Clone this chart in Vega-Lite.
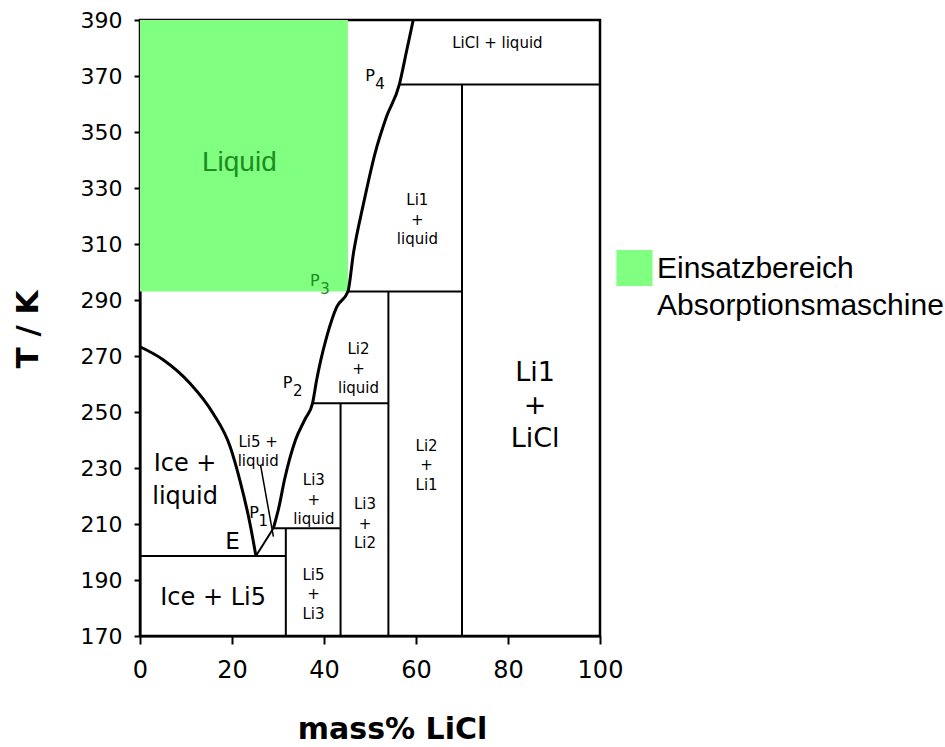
{
  "$schema": "https://vega.github.io/schema/vega-lite/v6.json",
  "width": 460,
  "height": 616,
  "autosize": "none",
  "padding": {"left": 140, "top": 20, "right": 345, "bottom": 111},
  "background": "white",
  "config": {
    "view": {"stroke": "black", "strokeWidth": 2.5},
    "font": "DejaVu Sans",
    "axis": {"grid": false, "domainColor": "black", "domainWidth": 2, "tickColor": "black", "tickWidth": 2, "labelColor": "black", "titleColor": "black"},
    "style": {"guide-label": {"lineHeight": 37}}
  },
  "datasets": {
    "region": [
      {"name": "Einsatzbereich|Absorptionsmaschine", "x": 0, "x2": 45.2, "y": 293, "y2": 390}
    ],
    "curves": [
      {"seg": "ice", "o": 1, "x": 0, "y": 273.3},
      {"seg": "ice", "o": 2, "x": 5.1, "y": 268.6},
      {"seg": "ice", "o": 3, "x": 10.9, "y": 260.2},
      {"seg": "ice", "o": 4, "x": 15.9, "y": 249.5},
      {"seg": "ice", "o": 5, "x": 19.6, "y": 237.6},
      {"seg": "ice", "o": 6, "x": 21.7, "y": 225.7},
      {"seg": "ice", "o": 7, "x": 23.9, "y": 210.2},
      {"seg": "ice", "o": 8, "x": 25.2, "y": 198.6},
      {"seg": "salt", "o": 1, "x": 29, "y": 208.5},
      {"seg": "salt", "o": 2, "x": 30.2, "y": 216},
      {"seg": "salt", "o": 3, "x": 31.4, "y": 225.7},
      {"seg": "salt", "o": 4, "x": 33.8, "y": 240},
      {"seg": "salt", "o": 5, "x": 35.9, "y": 247.5},
      {"seg": "salt", "o": 6, "x": 37.5, "y": 253.1},
      {"seg": "salt", "o": 7, "x": 38.4, "y": 261.4},
      {"seg": "salt", "o": 8, "x": 39.3, "y": 268.5},
      {"seg": "salt", "o": 9, "x": 40.6, "y": 276.9},
      {"seg": "salt", "o": 10, "x": 42.8, "y": 287.6},
      {"seg": "salt", "o": 11, "x": 45.2, "y": 293},
      {"seg": "salt", "o": 12, "x": 46.4, "y": 306.7},
      {"seg": "salt", "o": 13, "x": 48.6, "y": 324.5},
      {"seg": "salt", "o": 14, "x": 51.1, "y": 342.4},
      {"seg": "salt", "o": 15, "x": 53.6, "y": 355.5},
      {"seg": "salt", "o": 16, "x": 56.4, "y": 367.1},
      {"seg": "salt", "o": 17, "x": 58, "y": 379.3},
      {"seg": "salt", "o": 18, "x": 59.4, "y": 390}
    ],
    "rules": [
      {"x": 0, "x2": 31.7, "y": 198.6, "y2": 198.6},
      {"x": 29, "x2": 43.6, "y": 208.5, "y2": 208.5},
      {"x": 37.5, "x2": 54, "y": 253.1, "y2": 253.1},
      {"x": 45.2, "x2": 70, "y": 293, "y2": 293},
      {"x": 56.4, "x2": 100, "y": 367, "y2": 367},
      {"x": 31.7, "x2": 31.7, "y": 170, "y2": 208.5},
      {"x": 43.6, "x2": 43.6, "y": 170, "y2": 253.1},
      {"x": 54, "x2": 54, "y": 170, "y2": 293},
      {"x": 70, "x2": 70, "y": 170, "y2": 367},
      {"x": 25.2, "x2": 29, "y": 198.6, "y2": 208.5}
    ],
    "pointer": [
      {"x": 26.2, "x2": 29, "y": 231.1, "y2": 205.5}
    ],
    "labels": [
      {"g": "small", "t": "LiCl + liquid", "x": 77.7, "y": 381.8},
      {"g": "small", "t": "Li1\n+\nliquid", "x": 60.3, "y": 325.7},
      {"g": "small", "t": "Li2\n+\nliquid", "x": 47.5, "y": 272.4},
      {"g": "small", "t": "Li2\n+\nLi1", "x": 62.3, "y": 238},
      {"g": "small", "t": "Li5 +\nliquid", "x": 25.7, "y": 239.3},
      {"g": "small", "t": "Li3\n+\nliquid", "x": 37.8, "y": 225.7},
      {"g": "small", "t": "Li3\n+\nLi2", "x": 48.9, "y": 217.1},
      {"g": "small", "t": "Li5\n+\nLi3", "x": 37.7, "y": 191.8},
      {"g": "big", "t": "Li1\n+\nLiCl", "x": 85.9, "y": 263.9},
      {"g": "mid", "t": "Ice +\nliquid", "x": 9.8, "y": 231.4},
      {"g": "mid", "t": "Ice + Li5", "x": 15.9, "y": 183.6},
      {"g": "E", "t": "E", "x": 20.1, "y": 203.75},
      {"g": "P", "t": "P", "x": 24.8, "y": 214.1},
      {"g": "P", "t": "P", "x": 32.1, "y": 260.5},
      {"g": "P", "t": "P", "x": 50, "y": 370},
      {"g": "sub", "t": "1", "x": 26.8, "y": 211.1},
      {"g": "sub", "t": "2", "x": 34.3, "y": 257.5},
      {"g": "sub", "t": "4", "x": 52.2, "y": 367.1},
      {"g": "Pg", "t": "P", "x": 38, "y": 296.8},
      {"g": "subg", "t": "3", "x": 40.2, "y": 293.9},
      {"g": "liquid", "t": "Liquid", "x": 21.6, "y": 338.9}
    ]
  },
  "layer": [
    {
      "data": {"name": "region"},
      "mark": {"type": "rect", "opacity": 1},
      "encoding": {
        "x": {"field": "x", "type": "quantitative", "scale": {"domain": [0, 100], "nice": false},
          "axis": {"values": [0, 20, 40, 60, 80, 100], "tickSize": 8, "labelFont": "DejaVu Sans", "labelFontSize": 24, "labelPadding": 14, "labelFlush": false,
            "title": "mass% LiCl", "titleFont": "DejaVu Sans", "titleFontWeight": "bold", "titleFontSize": 30, "titleX": 252, "titleY": 102, "titleBaseline": "alphabetic", "titleAlign": "center"}},
        "x2": {"field": "x2"},
        "y": {"field": "y", "type": "quantitative", "scale": {"domain": [170, 390], "nice": false},
          "axis": {"values": [170, 190, 210, 230, 250, 270, 290, 310, 330, 350, 370, 390], "tickSize": 6, "labelFont": "DejaVu Sans", "labelFontSize": 22, "labelPadding": 12, "labelFlush": false,
            "title": "T / K", "titleFont": "DejaVu Sans", "titleFontWeight": "bold", "titleFontSize": 31, "titleAngle": -90, "titleX": -103, "titleY": 309, "titleBaseline": "alphabetic", "titleAlign": "center"}},
        "y2": {"field": "y2"},
        "color": {"field": "name", "type": "nominal", "scale": {"range": ["#80ff80"]},
          "legend": {"title": null, "orient": "none", "legendX": 476, "legendY": 239, "padding": 0,
            "symbolType": "M-1,-1.53H1V0.47H-1Z", "symbolSize": 1300, "symbolStrokeWidth": 0, "symbolOpacity": 1,
            "labelFont": "Liberation Sans", "labelFontSize": 30, "labelColor": "black", "labelLimit": 500,
            "labelBaseline": "alphabetic", "labelOffset": 4, "labelExpr": "split(datum.label, '|')"}}
      }
    },
    {
      "data": {"name": "curves"},
      "mark": {"type": "line", "color": "black", "strokeWidth": 3, "interpolate": "monotone"},
      "encoding": {
        "x": {"field": "x", "type": "quantitative"},
        "y": {"field": "y", "type": "quantitative"},
        "detail": {"field": "seg"},
        "order": {"field": "o", "type": "quantitative"}
      }
    },
    {
      "data": {"name": "rules"},
      "mark": {"type": "rule", "color": "black", "strokeWidth": 2},
      "encoding": {
        "x": {"field": "x", "type": "quantitative"},
        "x2": {"field": "x2"},
        "y": {"field": "y", "type": "quantitative"},
        "y2": {"field": "y2"}
      }
    },
    {
      "data": {"name": "pointer"},
      "mark": {"type": "rule", "color": "black", "strokeWidth": 1.5},
      "encoding": {
        "x": {"field": "x", "type": "quantitative"},
        "x2": {"field": "x2"},
        "y": {"field": "y", "type": "quantitative"},
        "y2": {"field": "y2"}
      }
    },
    {
      "data": {"name": "labels"},
      "transform": [{"filter": "datum.g === 'small'"}],
      "mark": {"type": "text", "font": "DejaVu Sans", "fontSize": 15, "lineHeight": 19.5, "lineBreak": "\n", "align": "center", "baseline": "middle", "color": "black"},
      "encoding": {"x": {"field": "x", "type": "quantitative"}, "y": {"field": "y", "type": "quantitative"}, "text": {"field": "t"}}
    },
    {
      "data": {"name": "labels"},
      "transform": [{"filter": "datum.g === 'big'"}],
      "mark": {"type": "text", "font": "DejaVu Sans", "fontSize": 27, "lineHeight": 33, "lineBreak": "\n", "align": "center", "baseline": "middle", "color": "black"},
      "encoding": {"x": {"field": "x", "type": "quantitative"}, "y": {"field": "y", "type": "quantitative"}, "text": {"field": "t"}}
    },
    {
      "data": {"name": "labels"},
      "transform": [{"filter": "datum.g === 'mid'"}],
      "mark": {"type": "text", "font": "DejaVu Sans", "fontSize": 24, "lineHeight": 33, "lineBreak": "\n", "align": "center", "baseline": "middle", "color": "black"},
      "encoding": {"x": {"field": "x", "type": "quantitative"}, "y": {"field": "y", "type": "quantitative"}, "text": {"field": "t"}}
    },
    {
      "data": {"name": "labels"},
      "transform": [{"filter": "datum.g === 'E'"}],
      "mark": {"type": "text", "font": "DejaVu Sans", "fontSize": 23, "align": "center", "baseline": "middle", "color": "black"},
      "encoding": {"x": {"field": "x", "type": "quantitative"}, "y": {"field": "y", "type": "quantitative"}, "text": {"field": "t"}}
    },
    {
      "data": {"name": "labels"},
      "transform": [{"filter": "datum.g === 'P'"}],
      "mark": {"type": "text", "font": "DejaVu Sans", "fontSize": 16, "align": "center", "baseline": "middle", "color": "black"},
      "encoding": {"x": {"field": "x", "type": "quantitative"}, "y": {"field": "y", "type": "quantitative"}, "text": {"field": "t"}}
    },
    {
      "data": {"name": "labels"},
      "transform": [{"filter": "datum.g === 'sub'"}],
      "mark": {"type": "text", "font": "DejaVu Sans", "fontSize": 15, "align": "center", "baseline": "middle", "color": "black"},
      "encoding": {"x": {"field": "x", "type": "quantitative"}, "y": {"field": "y", "type": "quantitative"}, "text": {"field": "t"}}
    },
    {
      "data": {"name": "labels"},
      "transform": [{"filter": "datum.g === 'Pg'"}],
      "mark": {"type": "text", "font": "DejaVu Sans", "fontSize": 16, "align": "center", "baseline": "middle", "color": "#1e8c1e"},
      "encoding": {"x": {"field": "x", "type": "quantitative"}, "y": {"field": "y", "type": "quantitative"}, "text": {"field": "t"}}
    },
    {
      "data": {"name": "labels"},
      "transform": [{"filter": "datum.g === 'subg'"}],
      "mark": {"type": "text", "font": "DejaVu Sans", "fontSize": 15, "align": "center", "baseline": "middle", "color": "#1e8c1e"},
      "encoding": {"x": {"field": "x", "type": "quantitative"}, "y": {"field": "y", "type": "quantitative"}, "text": {"field": "t"}}
    },
    {
      "data": {"name": "labels"},
      "transform": [{"filter": "datum.g === 'liquid'"}],
      "mark": {"type": "text", "font": "Liberation Sans", "fontSize": 28, "align": "center", "baseline": "middle", "color": "#1e8c1e"},
      "encoding": {"x": {"field": "x", "type": "quantitative"}, "y": {"field": "y", "type": "quantitative"}, "text": {"field": "t"}}
    }
  ]
}
